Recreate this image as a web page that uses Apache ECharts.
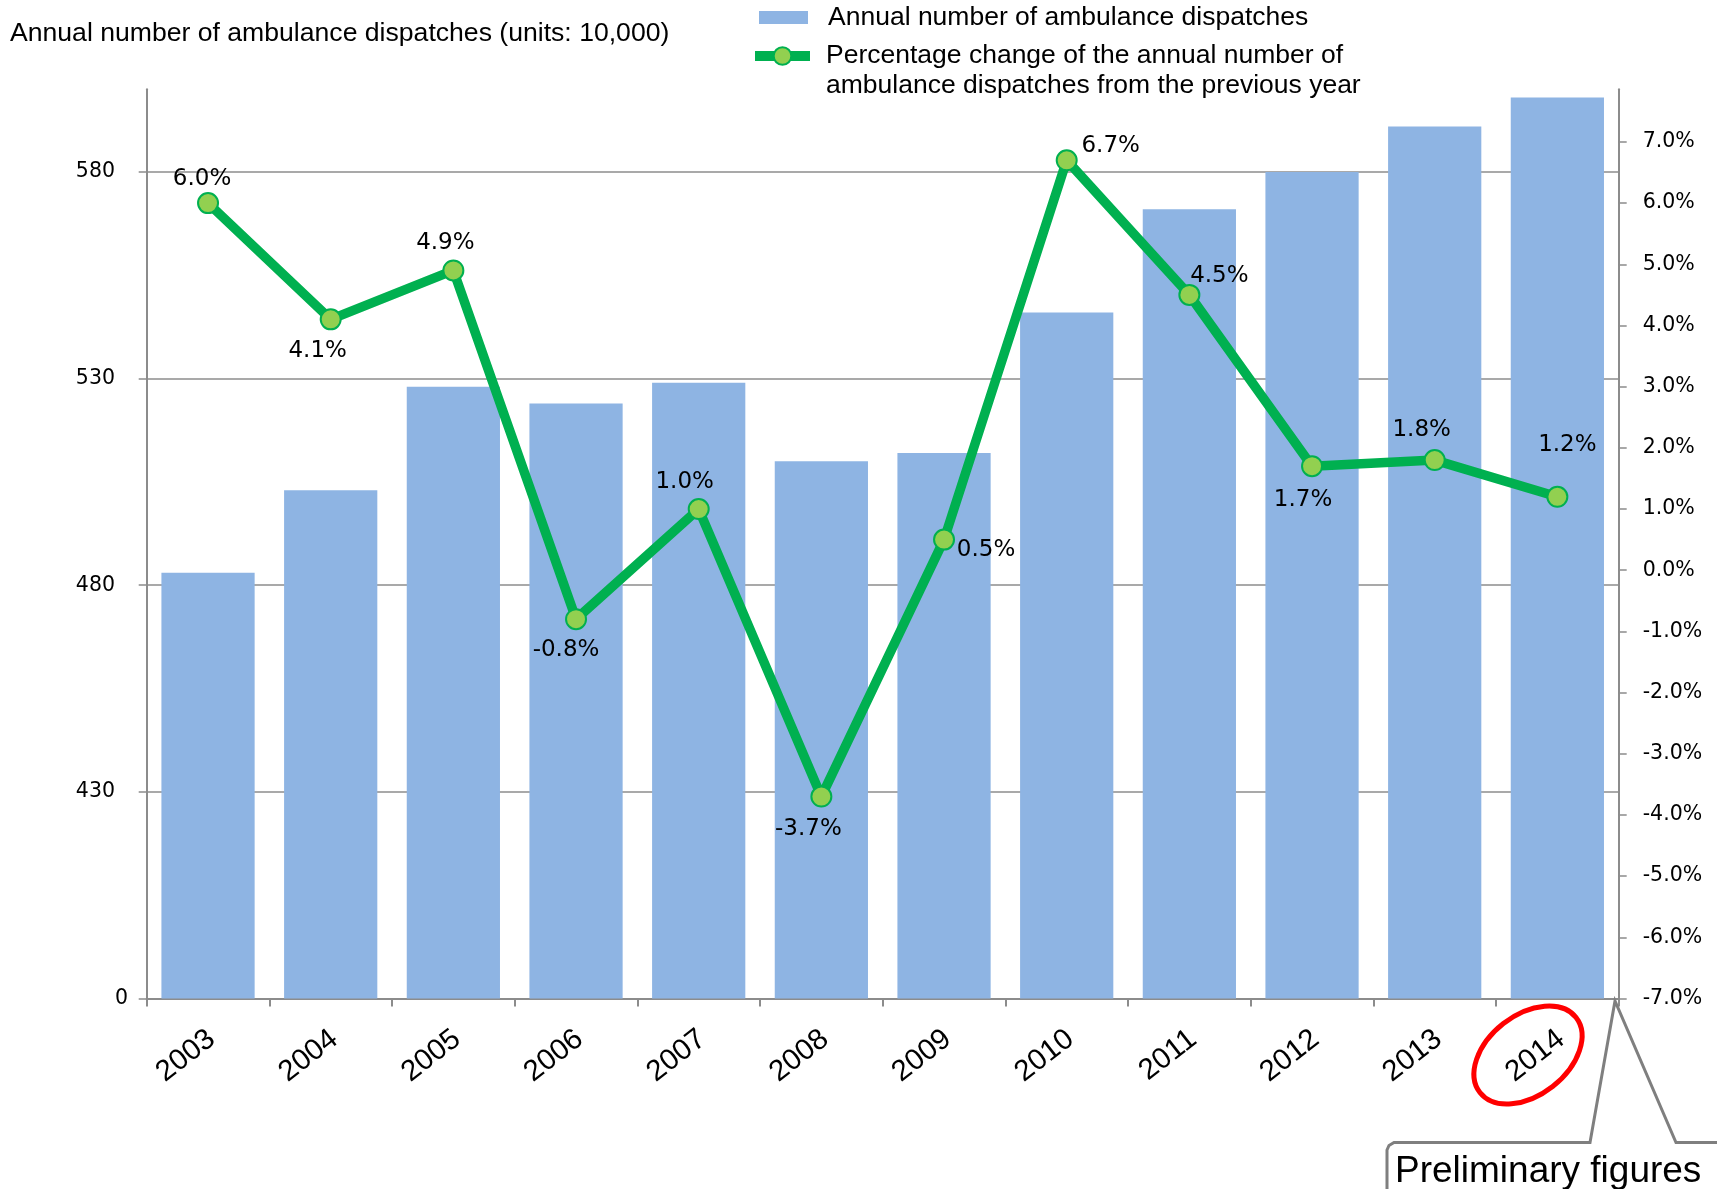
<!DOCTYPE html>
<html>
<head>
<meta charset="utf-8">
<title>Annual number of ambulance dispatches</title>
<script src="https://cdn.jsdelivr.net/npm/echarts@6/dist/echarts.min.js"></script>
<style>
  html, body { margin: 0; padding: 0; background: #fff; }
  #chart { width: 1717px; height: 1189px; }
</style>
</head>
<body>
<div id="chart"></div>
<script>
// data
const years = ['2003', '2004', '2005', '2006', '2007', '2008', '2009', '2010', '2011', '2012', '2013', '2014'];
const dispatches = [483, 503, 528, 524, 529, 510, 512, 546, 571, 580, 591, 598]; // units: 10,000
const changePct = [6.0, 4.1, 4.9, -0.8, 1.0, -3.7, 0.5, 6.7, 4.5, 1.7, 1.8, 1.2];
const leftTickLabels = ['0', '430', '480', '530', '580'];
const rightTickValues = [-7, -6, -5, -4, -3, -2, -1, 0, 1, 2, 3, 4, 5, 6, 7];

// the left axis is broken: 0..380 is collapsed into one 50-unit step
const breakBase = 380;

// where each percentage label sits relative to its point (px)
const labelOffsets = [
  [-6, -24], [-13, 32], [-8, -27], [-10, 31], [-14, -27], [-13, 32],
  [42, 10], [44, -14], [30, -19], [-9, 34], [-13, -30], [10, -52]
];

const barName = 'Annual number of ambulance dispatches';
const lineName = 'Percentage change of the annual number of\nambulance dispatches from the previous year';

const arial = '"Liberation Sans", Arial, sans-serif';
const dejavu = '"DejaVu Sans", Verdana, sans-serif';
const axisGray = '#8c8c8c';

let myChart = echarts.init(document.getElementById('chart'));

const option = {
  animation: false,
  title: {
    text: 'Annual number of ambulance dispatches (units: 10,000)',
    left: 10,
    top: 20,
    padding: 0,
    textStyle: { fontFamily: arial, fontSize: 26.6, fontWeight: 'normal', color: '#000' }
  },
  legend: [
    {
      data: [barName],
      left: 759,
      top: 4,
      padding: 0,
      itemWidth: 49,
      itemHeight: 13,
      selectedMode: false,
      icon: 'rect',
      textStyle: { fontFamily: arial, fontSize: 26.5, color: '#000', padding: [0, 0, 0, 15] }
    },
    {
      data: [lineName],
      left: 750,
      top: 11,
      padding: 0,
      itemWidth: 55,
      itemHeight: 22,
      selectedMode: false,
      lineStyle: { width: 10 },
      // blank first line keeps the icon level with the first text line
      formatter: function (name) { return '\n' + name; },
      textStyle: {
        fontFamily: arial, fontSize: 26.5, color: '#000',
        lineHeight: 30, padding: [0, 0, 0, 11]
      }
    }
  ],
  grid: {
    left: 146.7,
    right: 98.3,
    top: 89.3,
    bottom: 190.5,
    containLabel: false,
    outerBoundsMode: 'none'
  },
  xAxis: {
    type: 'category',
    data: years,
    axisLine: { lineStyle: { color: axisGray, width: 2 } },
    axisTick: { show: true, length: 8, lineStyle: { color: axisGray, width: 2 } },
    axisLabel: {
      rotate: 38,
      margin: 21,
      verticalAlign: 'top',
      padding: [0, 7, 0, 0],
      fontFamily: arial,
      fontSize: 29.5,
      color: '#000'
    }
  },
  yAxis: [
    {
      type: 'value',
      min: 0,
      max: 220,
      interval: 50,
      axisLine: { show: true, lineStyle: { color: axisGray, width: 2 } },
      axisTick: {
        show: true, length: 8,
        customValues: [0, 50, 100, 150, 200],
        lineStyle: { color: axisGray, width: 1.5 }
      },
      splitLine: {
        show: true, showMinLine: false,
        lineStyle: { color: axisGray, width: 1.5 }
      },
      axisLabel: {
        margin: 18.7,
        fontFamily: dejavu,
        fontSize: 20.5,
        color: '#000',
        formatter: function (v) {
          const i = v / 50;
          if (!Number.isInteger(i) || i >= leftTickLabels.length) return '';
          return i === 0 ? leftTickLabels[0] : '{a|' + leftTickLabels[i] + '}';
        },
        rich: {
          a: { fontFamily: dejavu, fontSize: 20.5, color: '#000', padding: [0, 13, 0, 0] }
        }
      }
    },
    {
      type: 'value',
      min: -7,
      max: 7.86,
      interval: 1,
      position: 'right',
      axisLine: { show: true, lineStyle: { color: axisGray, width: 2 } },
      axisTick: {
        show: true, length: 8,
        customValues: rightTickValues,
        lineStyle: { color: axisGray, width: 1.5 }
      },
      splitLine: { show: false },
      axisLabel: {
        margin: 24,
        customValues: rightTickValues,
        fontFamily: dejavu,
        fontSize: 20.5,
        color: '#000',
        formatter: function (v) { return v.toFixed(1) + '%'; }
      }
    }
  ],
  series: [
    {
      name: barName,
      type: 'bar',
      yAxisIndex: 0,
      barWidth: '76%',
      itemStyle: { color: '#8eb4e3' },
      data: dispatches.map(function (v) { return v - breakBase; })
    },
    {
      name: lineName,
      type: 'line',
      yAxisIndex: 1,
      z: 5,
      symbol: 'circle',
      symbolSize: 20,
      lineStyle: { color: '#00b050', width: 9.5 },
      itemStyle: { color: '#92d050', borderColor: '#00b050', borderWidth: 2 },
      label: {
        show: true,
        position: 'inside',
        fontFamily: dejavu,
        fontSize: 23,
        color: '#000',
        formatter: function (p) { return p.value.toFixed(1) + '%'; }
      },
      data: changePct.map(function (v, i) {
        return { value: v, label: { offset: labelOffsets[i] } };
      })
    }
  ],
  graphic: [
    {
      // red ring round the 2014 label
      type: 'ellipse',
      x: 1528,
      y: 1055,
      rotation: 38 * Math.PI / 180,
      shape: { cx: 0, cy: 0, rx: 61, ry: 40 },
      style: { fill: 'none', stroke: '#ff0000', lineWidth: 5 },
      z: 10
    },
    {
      // callout pointing at the end of the axis
      type: 'polyline',
      shape: {
        points: [[1387, 1200], [1387, 1150], [1389, 1145.5], [1394, 1142.5], [1590, 1142.5],
                 [1615, 1001], [1676, 1142.5], [1730, 1142.5]]
      },
      style: { fill: 'none', stroke: '#7f7f7f', lineWidth: 3 },
      z: 10
    },
    {
      type: 'text',
      x: 1395,
      y: 1153,
      style: {
        text: 'Preliminary figures',
        fontFamily: arial,
        fontSize: 37,
        fill: '#000',
        textVerticalAlign: 'top'
      },
      z: 10
    }
  ]
};

option && myChart.setOption(option);
</script>
</body>
</html>
